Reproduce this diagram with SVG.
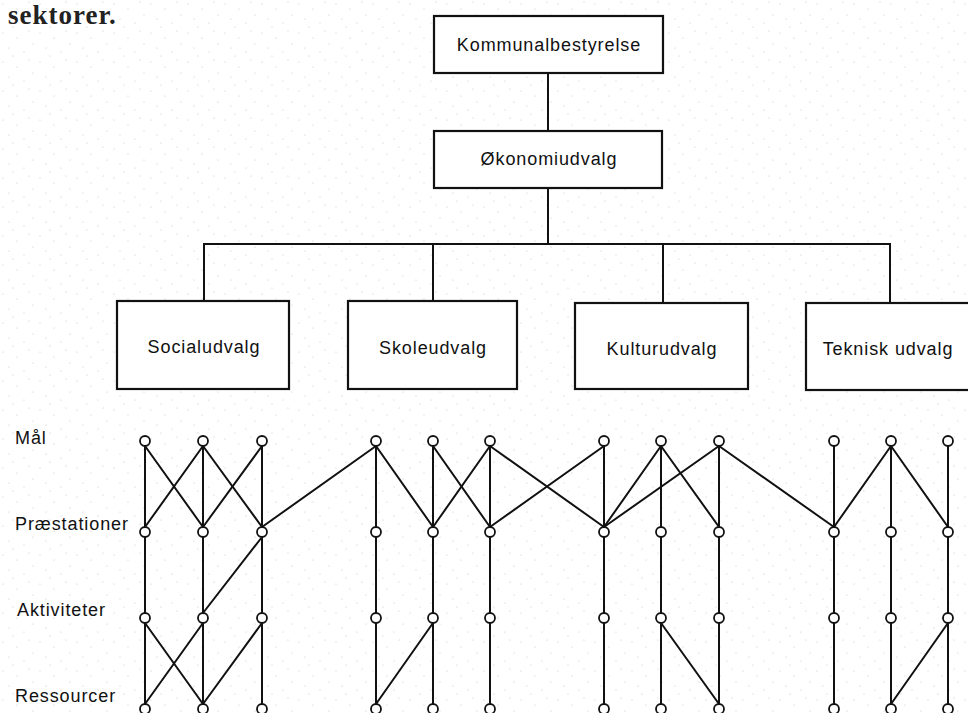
<svg xmlns="http://www.w3.org/2000/svg" width="968" height="713" viewBox="0 0 968 713">
<style>
.box{fill:#fff;stroke:#111;stroke-width:2.2}
.bt{font-family:"Liberation Sans",Arial,sans-serif;font-size:18px;letter-spacing:0.9px;fill:#111;text-anchor:middle}
.lbl{font-family:"Liberation Sans",Arial,sans-serif;font-size:18px;letter-spacing:0.9px;fill:#111}
.ln{stroke:#111;stroke-width:2;fill:none;stroke-linecap:round}
.nd{fill:#fff;stroke:#111;stroke-width:1.8}
</style>
<defs>
<pattern id="spk" width="37" height="29" patternUnits="userSpaceOnUse">
<rect width="37" height="29" fill="#fff"/>
<circle cx="3" cy="4" r="0.6" fill="#c8c8c8"/>
<circle cx="17" cy="9" r="0.6" fill="#c8c8c8"/>
<circle cx="29" cy="2" r="0.6" fill="#c8c8c8"/>
<circle cx="9" cy="19" r="0.6" fill="#c8c8c8"/>
<circle cx="24" cy="23" r="0.6" fill="#c8c8c8"/>
<circle cx="33" cy="15" r="0.6" fill="#c8c8c8"/>
<circle cx="13" cy="27" r="0.6" fill="#c8c8c8"/>
</pattern>
</defs>
<rect width="968" height="713" fill="url(#spk)"/>

<text x="8" y="24" font-family="'Liberation Serif','Times New Roman',serif" font-size="27" font-weight="bold" letter-spacing="1" fill="#222">sektorer.</text>

<g id="connectors">
<g id="tree">
<line class="ln" x1="548" y1="73" x2="548" y2="131"/>
<line class="ln" x1="548" y1="188" x2="548" y2="244"/>
<polyline class="ln" points="204,301 204,244 890,244 890,303"/>
<line class="ln" x1="433" y1="244" x2="433" y2="301"/>
<line class="ln" x1="663" y1="244" x2="663" y2="303"/>
</g>
<g id="mp">
<line class="ln" x1="145" y1="446" x2="145" y2="527"/>
<line class="ln" x1="145" y1="446" x2="203" y2="527"/>
<line class="ln" x1="203" y1="446" x2="145" y2="527"/>
<line class="ln" x1="203" y1="446" x2="203" y2="527"/>
<line class="ln" x1="203" y1="446" x2="262" y2="527"/>
<line class="ln" x1="262" y1="446" x2="203" y2="527"/>
<line class="ln" x1="262" y1="446" x2="262" y2="527"/>
<line class="ln" x1="376" y1="446" x2="262" y2="527"/>
<line class="ln" x1="376" y1="446" x2="376" y2="527"/>
<line class="ln" x1="376" y1="446" x2="433" y2="527"/>
<line class="ln" x1="433" y1="446" x2="433" y2="527"/>
<line class="ln" x1="433" y1="446" x2="490" y2="527"/>
<line class="ln" x1="490" y1="446" x2="433" y2="527"/>
<line class="ln" x1="490" y1="446" x2="490" y2="527"/>
<line class="ln" x1="490" y1="446" x2="604" y2="527"/>
<line class="ln" x1="604" y1="446" x2="490" y2="527"/>
<line class="ln" x1="604" y1="446" x2="604" y2="527"/>
<line class="ln" x1="661" y1="446" x2="604" y2="527"/>
<line class="ln" x1="661" y1="446" x2="661" y2="527"/>
<line class="ln" x1="661" y1="446" x2="719" y2="527"/>
<line class="ln" x1="719" y1="446" x2="604" y2="527"/>
<line class="ln" x1="719" y1="446" x2="719" y2="527"/>
<line class="ln" x1="719" y1="446" x2="834" y2="527"/>
<line class="ln" x1="834" y1="446" x2="834" y2="527"/>
<line class="ln" x1="891" y1="446" x2="834" y2="527"/>
<line class="ln" x1="891" y1="446" x2="891" y2="527"/>
<line class="ln" x1="891" y1="446" x2="948" y2="527"/>
<line class="ln" x1="948" y1="446" x2="948" y2="527"/>
</g>
<g id="pa">
<line class="ln" x1="145" y1="537" x2="145" y2="613"/>
<line class="ln" x1="203" y1="537" x2="203" y2="613"/>
<line class="ln" x1="262" y1="537" x2="262" y2="613"/>
<line class="ln" x1="262" y1="537" x2="203" y2="613"/>
<line class="ln" x1="376" y1="537" x2="376" y2="613"/>
<line class="ln" x1="433" y1="537" x2="433" y2="613"/>
<line class="ln" x1="490" y1="537" x2="490" y2="613"/>
<line class="ln" x1="604" y1="537" x2="604" y2="613"/>
<line class="ln" x1="661" y1="537" x2="661" y2="613"/>
<line class="ln" x1="719" y1="537" x2="719" y2="613"/>
<line class="ln" x1="834" y1="537" x2="834" y2="613"/>
<line class="ln" x1="891" y1="537" x2="891" y2="613"/>
<line class="ln" x1="948" y1="537" x2="948" y2="613"/>
</g>
<g id="ar">
<line class="ln" x1="145" y1="623" x2="145" y2="704"/>
<line class="ln" x1="145" y1="623" x2="203" y2="704"/>
<line class="ln" x1="203" y1="623" x2="145" y2="704"/>
<line class="ln" x1="203" y1="623" x2="203" y2="704"/>
<line class="ln" x1="262" y1="623" x2="203" y2="704"/>
<line class="ln" x1="262" y1="623" x2="262" y2="704"/>
<line class="ln" x1="376" y1="623" x2="376" y2="704"/>
<line class="ln" x1="433" y1="623" x2="433" y2="704"/>
<line class="ln" x1="433" y1="623" x2="376" y2="704"/>
<line class="ln" x1="490" y1="623" x2="490" y2="704"/>
<line class="ln" x1="604" y1="623" x2="604" y2="704"/>
<line class="ln" x1="661" y1="623" x2="661" y2="704"/>
<line class="ln" x1="661" y1="623" x2="719" y2="704"/>
<line class="ln" x1="719" y1="623" x2="719" y2="704"/>
<line class="ln" x1="834" y1="623" x2="834" y2="704"/>
<line class="ln" x1="891" y1="623" x2="891" y2="704"/>
<line class="ln" x1="948" y1="623" x2="948" y2="704"/>
<line class="ln" x1="948" y1="623" x2="891" y2="704"/>
</g>
</g>

<g id="kommunalbestyrelse"><rect class="box" x="434" y="16" width="229" height="57"/><text class="bt" x="549" y="51">Kommunalbestyrelse</text></g>
<g id="okonomiudvalg"><rect class="box" x="434" y="131" width="228" height="57"/><text class="bt" x="549" y="165">Økonomiudvalg</text></g>
<g id="socialudvalg"><rect class="box" x="117" y="301" width="172" height="88"/><text class="bt" x="204" y="353">Socialudvalg</text></g>
<g id="skoleudvalg"><rect class="box" x="348" y="301" width="169" height="88"/><text class="bt" x="433" y="354">Skoleudvalg</text></g>
<g id="kulturudvalg"><rect class="box" x="575" y="303" width="173" height="86"/><text class="bt" x="662" y="355">Kulturudvalg</text></g>
<g id="tekniskudvalg"><rect class="box" x="806" y="303" width="170" height="87"/><text class="bt" x="888" y="355">Teknisk udvalg</text></g>

<g id="labels">
<text class="lbl" x="15" y="444">Mål</text>
<text class="lbl" x="15" y="530">Præstationer</text>
<text class="lbl" x="17" y="616">Aktiviteter</text>
<text class="lbl" x="15" y="702">Ressourcer</text>
</g>

<g id="nodes">
<g id="m1"><circle class="nd" cx="145" cy="441" r="5"/></g>
<g id="m2"><circle class="nd" cx="203" cy="441" r="5"/></g>
<g id="m3"><circle class="nd" cx="262" cy="441" r="5"/></g>
<g id="m4"><circle class="nd" cx="376" cy="441" r="5"/></g>
<g id="m5"><circle class="nd" cx="433" cy="441" r="5"/></g>
<g id="m6"><circle class="nd" cx="490" cy="441" r="5"/></g>
<g id="m7"><circle class="nd" cx="604" cy="441" r="5"/></g>
<g id="m8"><circle class="nd" cx="661" cy="441" r="5"/></g>
<g id="m9"><circle class="nd" cx="719" cy="441" r="5"/></g>
<g id="m10"><circle class="nd" cx="834" cy="441" r="5"/></g>
<g id="m11"><circle class="nd" cx="891" cy="441" r="5"/></g>
<g id="m12"><circle class="nd" cx="948" cy="441" r="5"/></g>
<g id="p1"><circle class="nd" cx="145" cy="532" r="5"/></g>
<g id="p2"><circle class="nd" cx="203" cy="532" r="5"/></g>
<g id="p3"><circle class="nd" cx="262" cy="532" r="5"/></g>
<g id="p4"><circle class="nd" cx="376" cy="532" r="5"/></g>
<g id="p5"><circle class="nd" cx="433" cy="532" r="5"/></g>
<g id="p6"><circle class="nd" cx="490" cy="532" r="5"/></g>
<g id="p7"><circle class="nd" cx="604" cy="532" r="5"/></g>
<g id="p8"><circle class="nd" cx="661" cy="532" r="5"/></g>
<g id="p9"><circle class="nd" cx="719" cy="532" r="5"/></g>
<g id="p10"><circle class="nd" cx="834" cy="532" r="5"/></g>
<g id="p11"><circle class="nd" cx="891" cy="532" r="5"/></g>
<g id="p12"><circle class="nd" cx="948" cy="532" r="5"/></g>
<g id="a1"><circle class="nd" cx="145" cy="618" r="5"/></g>
<g id="a2"><circle class="nd" cx="203" cy="618" r="5"/></g>
<g id="a3"><circle class="nd" cx="262" cy="618" r="5"/></g>
<g id="a4"><circle class="nd" cx="376" cy="618" r="5"/></g>
<g id="a5"><circle class="nd" cx="433" cy="618" r="5"/></g>
<g id="a6"><circle class="nd" cx="490" cy="618" r="5"/></g>
<g id="a7"><circle class="nd" cx="604" cy="618" r="5"/></g>
<g id="a8"><circle class="nd" cx="661" cy="618" r="5"/></g>
<g id="a9"><circle class="nd" cx="719" cy="618" r="5"/></g>
<g id="a10"><circle class="nd" cx="834" cy="618" r="5"/></g>
<g id="a11"><circle class="nd" cx="891" cy="618" r="5"/></g>
<g id="a12"><circle class="nd" cx="948" cy="618" r="5"/></g>
<g id="r1"><circle class="nd" cx="145" cy="709" r="5"/></g>
<g id="r2"><circle class="nd" cx="203" cy="709" r="5"/></g>
<g id="r3"><circle class="nd" cx="262" cy="709" r="5"/></g>
<g id="r4"><circle class="nd" cx="376" cy="709" r="5"/></g>
<g id="r5"><circle class="nd" cx="433" cy="709" r="5"/></g>
<g id="r6"><circle class="nd" cx="490" cy="709" r="5"/></g>
<g id="r7"><circle class="nd" cx="604" cy="709" r="5"/></g>
<g id="r8"><circle class="nd" cx="661" cy="709" r="5"/></g>
<g id="r9"><circle class="nd" cx="719" cy="709" r="5"/></g>
<g id="r10"><circle class="nd" cx="834" cy="709" r="5"/></g>
<g id="r11"><circle class="nd" cx="891" cy="709" r="5"/></g>
<g id="r12"><circle class="nd" cx="948" cy="709" r="5"/></g>
</g>
</svg>
